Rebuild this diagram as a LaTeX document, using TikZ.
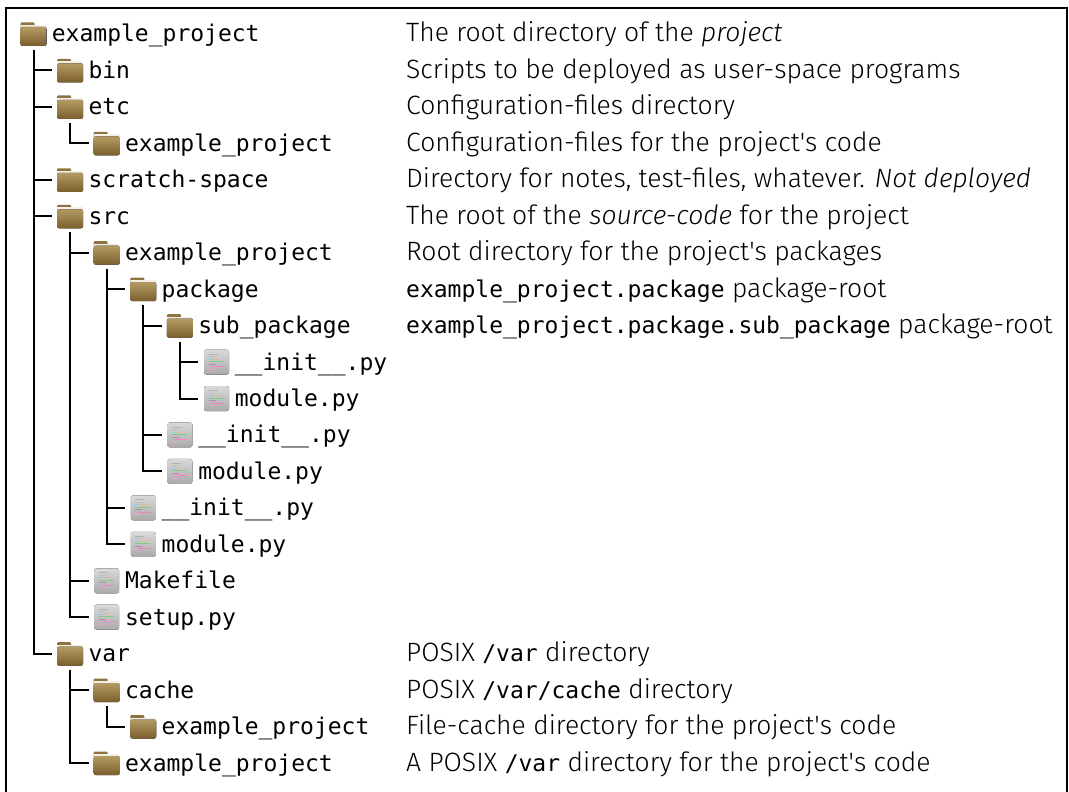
\documentclass[tikz,border=0pt]{standalone}
\usepackage{fontspec}
\setmainfont{Fira Sans}[UprightFont=* Light,ItalicFont=* Light Italic]
\setmonofont{DejaVu Sans Mono}
\definecolor{foldertop}{HTML}{B49A62}
\definecolor{folderbot}{HTML}{7A5F2E}
\definecolor{foldertab}{HTML}{8C7340}
\definecolor{filetop}{HTML}{DADADA}
\definecolor{filebot}{HTML}{A9A9A9}
\newcommand{\codeline}[4]{\draw[#1,line width=0.9pt]
  ([shift={(#2pt,-#3pt)}]path picture bounding box.north west) -- ++(#4pt,0);}
\tikzset{
  folder/.style={minimum width=26pt,minimum height=24pt,inner sep=0pt,
    path picture={
      \fill[foldertab,rounded corners=1pt]
        ([yshift=-0.5pt]path picture bounding box.north west) rectangle ++(14pt,-6pt);
      \fill[white!85!foldertop]
        ([yshift=-3pt]path picture bounding box.north west) rectangle ([yshift=-6pt]path picture bounding box.north east);
      \fill[top color=foldertop,bottom color=folderbot,rounded corners=2pt]
        ([yshift=-5pt]path picture bounding box.north west) rectangle (path picture bounding box.south east);
    }},
  file/.style={minimum width=26pt,minimum height=26pt,inner sep=0pt,
    path picture={
      \fill[top color=filetop,bottom color=filebot,rounded corners=2.5pt]
        ([shift={(0.5pt,-0.5pt)}]path picture bounding box.north west) rectangle ([shift={(-0.5pt,0.5pt)}]path picture bounding box.south east);
      \codeline{gray!60}{5}{5}{9}
      \codeline{gray!50}{5}{7.5}{6}
      \codeline{cyan!50}{5}{10}{5}
      \codeline{orange!60}{10.5}{10}{4}
      \codeline{green!60!black!50}{5}{12.5}{15}
      \codeline{violet!50}{5}{15}{7}
      \codeline{magenta!50}{8}{17.5}{12}
      \codeline{magenta!40}{5}{20}{5}
    }},
  fname/.style={inner sep=0pt,anchor=base west,font=\fontsize{23}{26}\selectfont\ttfamily},
  desc/.style={inner sep=0pt,anchor=base west,font=\fontsize{26.5}{30}\selectfont},
  branch/.style={line width=2pt,shorten <=4pt,shorten >=5pt}
}
\newcommand{\code}[1]{{\fontsize{23}{26}\selectfont\ttfamily #1}}
\newcommand{\q}{\textquotesingle}
\begin{document}
\begin{tikzpicture}[x=1pt,y=-1pt]
  \useasboundingbox (0,0) rectangle (1069,792);
  \draw[line width=2.5pt] (6,792) |- (1067,8) -- (1067,792);
  % depth / parent / icon / name / description
  \foreach \dep/\up/\kind/\nm/\txt [count=\i] in {
    0/0/folder/example\_project/{The root directory of the \textit{project}},
    1/1/folder/bin/{Scripts to be deployed as user-space programs},
    1/1/folder/etc/{Configuration-files directory},
    2/3/folder/example\_project/{Configuration-files for the project\q s code},
    1/1/folder/scratch-space/{Directory for notes, test-files, whatever. \textit{Not deployed}},
    1/1/folder/src/{The root of the \textit{source-code} for the project},
    2/6/folder/example\_project/{Root directory for the project\q s packages},
    3/7/folder/package/{\code{example\_project.package} package-root},
    4/8/folder/sub\_package/{\code{example\_project.package.sub\_package} package-root},
    5/9/file/\_\_init\_\_.py/{},
    5/9/file/module.py/{},
    4/8/file/\_\_init\_\_.py/{},
    4/8/file/module.py/{},
    3/7/file/\_\_init\_\_.py/{},
    3/7/file/module.py/{},
    2/6/file/Makefile/{},
    2/6/file/setup.py/{},
    1/1/folder/var/{POSIX \code{/var} directory},
    2/18/folder/cache/{POSIX \code{/var/cache} directory},
    3/19/folder/example\_project/{File-cache directory for the project\q s code},
    2/18/folder/example\_project/{A POSIX \code{/var} directory for the project\q s code}}
  {
    \node[\kind] (i\i) at ({33.5+36.6*\dep},{34+36.45*(\i-1)}) {};
    \node[fname] (n\i) at ([xshift=5pt,yshift=-8pt]i\i.east) {\nm};
    \node[desc] (d\i) at (406,{42+36.45*(\i-1)}) {\txt};
    \ifnum\i>1 \draw[branch] (i\up.south) |- (i\i.west); \fi
  }
\end{tikzpicture}
\end{document}
